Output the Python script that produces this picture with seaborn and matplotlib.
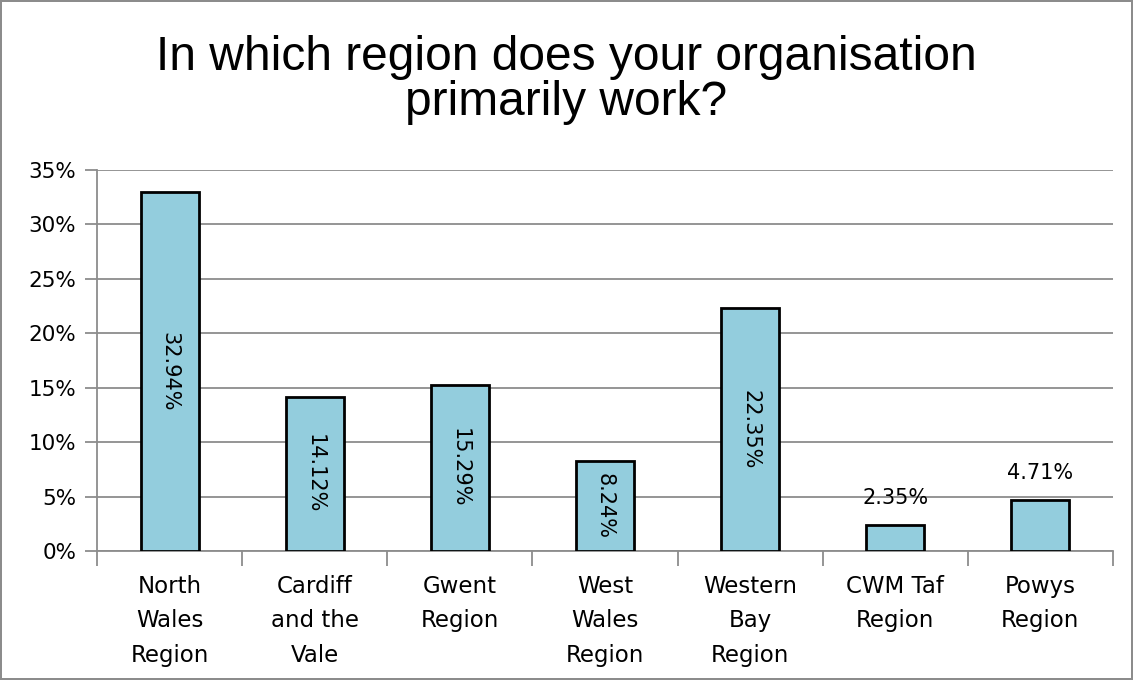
import matplotlib
matplotlib.use("Agg")
import matplotlib.pyplot as plt
import seaborn as sns
import pandas as pd
from matplotlib.ticker import FuncFormatter, FixedLocator

regions = ["North\nWales\nRegion", "Cardiff\nand the\nVale", "Gwent\nRegion",
           "West\nWales\nRegion", "Western\nBay\nRegion", "CWM Taf\nRegion",
           "Powys\nRegion"]
shares = [32.94, 14.12, 15.29, 8.24, 22.35, 2.35, 4.71]
labels = ["32.94%", "14.12%", "15.29%", "8.24%", "22.35%", "2.35%", "4.71%"]

df = pd.DataFrame({"region": regions, "share": shares})

sns.set_theme(style="white")
plt.rcParams["font.family"] = ["DejaVu Sans"]

fig = plt.figure(figsize=(11.33, 6.8), dpi=100, linewidth=1.5, edgecolor="#8c8c8c")
ax = fig.add_axes([0.0856, 0.1897, 0.8967, 0.5603])

sns.barplot(data=df, x="region", y="share", color="#93CDDD", saturation=1,
            width=0.4, edgecolor="black", linewidth=2, ax=ax, zorder=3)

ax.set_ylim(0, 35)
ax.set_xlim(-0.5, len(regions) - 0.5)
ax.set_yticks(range(0, 36, 5))
ax.yaxis.set_major_formatter(FuncFormatter(lambda v, p: f"{v:.0f}%"))
ax.grid(axis="y", color="#8c8c8c", linewidth=1.3, zorder=0)
ax.set_axisbelow(True)

for s in ["top", "right"]:
    ax.spines[s].set_visible(False)
for s in ["left", "bottom"]:
    ax.spines[s].set_color("#8c8c8c")
    ax.spines[s].set_linewidth(1.3)

ax.tick_params(axis="y", left=True, length=9, width=1.3, color="#8c8c8c",
               labelsize=15.5, pad=6, labelcolor="black")
ax.tick_params(axis="x", bottom=False, labelsize=16.5, pad=11, labelcolor="black")
for lab in ax.get_xticklabels():
    lab.set_linespacing(1.65)
    lab.set_verticalalignment("top")

# boundary ticks between categories
ax.xaxis.set_minor_locator(FixedLocator([i - 0.5 for i in range(len(regions) + 1)]))
ax.tick_params(axis="x", which="minor", bottom=True, length=11, width=1.3, color="#8c8c8c")

ax.set_xlabel("")
ax.set_ylabel("")

for i, (v, t) in enumerate(zip(shares, labels)):
    if v > 6:
        ax.text(i, v / 2, t, rotation=270, ha="center", va="center",
                fontsize=15, color="black", zorder=4)
    else:
        ax.text(i, v + 2.5, t, ha="center", va="center",
                fontsize=15, color="black", zorder=4)

fig.text(0.5, 0.882, "In which region does your organisation\nprimarily work?",
         ha="center", va="center", fontsize=34.5, family="Liberation Sans",
         color="black", linespacing=1.0)

fig.savefig("out.png", dpi=100, edgecolor=fig.get_edgecolor())
